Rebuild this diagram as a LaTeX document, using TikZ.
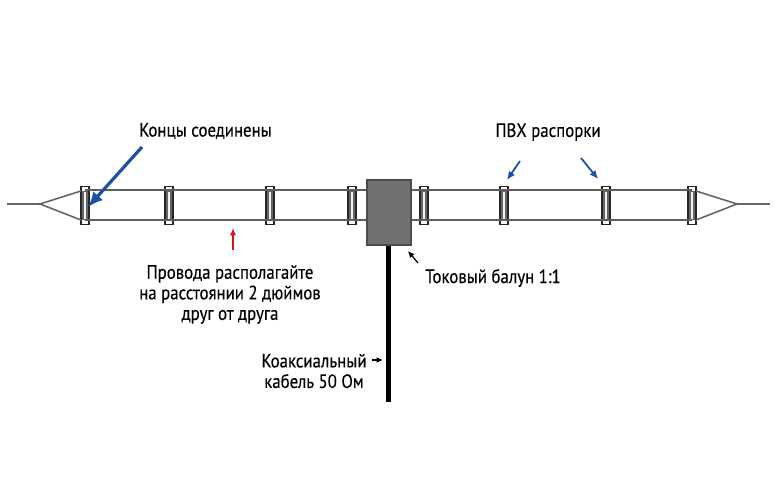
\documentclass[tikz,border=0pt]{standalone}
\usepackage{fontspec}
\setmainfont[FakeStretch=0.87,FakeBold=0.25]{PT Sans}
\usepackage{tikz}
\usetikzlibrary{arrows.meta,positioning}
\definecolor{pointerblue}{HTML}{1C4FA6}
\definecolor{pointerred}{HTML}{D0161C}
\definecolor{balungray}{HTML}{707070}
\definecolor{wiregray}{HTML}{5E5E5E}
\tikzset{
  spacer/.style={draw=black!85,fill=white,line width=.8pt,minimum width=.16cm,minimum height=.76cm,inner sep=0pt},
  spacercore/.style={draw=black!60,fill=black!6,line width=.6pt,minimum width=.08cm,minimum height=.56cm,inner sep=0pt},
  balun/.style={draw=black!70,fill=balungray,line width=.6pt,minimum width=.88cm,minimum height=1.3cm,inner sep=0pt},
  wire/.style={draw=wiregray,line width=1.6pt},
  lead/.style={draw=black!60,line width=.9pt},
  coax/.style={draw=black,line width=2.4pt},
  label/.style={align=center,font=\fontsize{11}{11.7}\selectfont,inner sep=0pt},
  bigptr/.style={-{Latex[length=3mm,width=2.6mm]},draw=pointerblue,line width=1.8pt},
  smallptr/.style={-{Latex[length=1.7mm,width=1.5mm]},draw=pointerblue,line width=1pt},
  redptr/.style={-{Latex[length=1.5mm,width=1.3mm]},draw=pointerred,line width=.9pt},
  blackptr/.style={-{Latex[length=1.3mm,width=1.2mm]},draw=black,line width=.7pt},
}
\begin{document}
\begin{tikzpicture}[x=.02cm,y=-.02cm]
    \useasboundingbox (0,0) rectangle (775,500);
    % spacers first, wires go on top
    \coordinate (tl) at (85,190); \coordinate (bl) at (85,220);
    \coordinate (tr) at (692,190); \coordinate (br) at (692,220);
    \coordinate (endl) at (7,204); \coordinate (endr) at (770,204);
    \foreach \n/\x in {a/85,b/169,c/270,d/352,e/424,f/504,g/606,h/692}{
      \node[spacer] (sp\n) at (\x,205.5) {};
      \node[spacercore] (core\n) at (\x,205.5) {};
    }
    \node[balun] (bal) at (389,212.5) {};
    \draw[wire] (tl)--(tl-|bal.west); \draw[wire] (bl)--(bl-|bal.west);
    \draw[wire] (tr)--(tr-|bal.east); \draw[wire] (br)--(br-|bal.east);
    % feed points at the far ends
    \fill[black] (40,204) circle (1.3) coordinate (tipl);
    \fill[black] (737,204) circle (1.3) coordinate (tipr);
    \draw[lead] (endl)--(tipl); \draw[lead] (tipl)--(81,191); \draw[lead] (tipl)--(81,220);
    \draw[lead] (endr)--(tipr); \draw[lead] (tipr)--(696,191); \draw[lead] (tipr)--(696,220);
    \coordinate (coaxend) at (388.5,402);
    \draw[coax] (bal.south-|coaxend)--(coaxend);
    % labels
    \node[label] (joined) at (205.5,131) {Концы соединены};
    \node[label] (spacers) at (548,132) {ПВХ распорки};
    \node[label] (spacing) at (230,294.5) {Провода располагайте\\на расстоянии 2 дюймов\\друг от друга};
    \node[label] (current) at (493,278) {Токовый балун 1:1};
    \node[label] (cable) at (314,371) {Коаксиальный\\кабель 50 Ом};
    % pointers
    \coordinate (p1) at (142,147); \coordinate (p2) at (520,161); \coordinate (p3) at (581,158);
    \coordinate (p4) at (233,250); \coordinate (p5) at (418,263); \coordinate (p6) at (372,360);
    \draw[bigptr] (p1)--(88,207);
    \draw[smallptr] (p2)--(507,180);
    \draw[smallptr] (p3)--(598,179);
    \draw[redptr] (p4)--(233,228);
    \draw[blackptr] (p5)--(408,251);
    \draw[blackptr] (p6)--(383,360);
\end{tikzpicture}
\end{document}
